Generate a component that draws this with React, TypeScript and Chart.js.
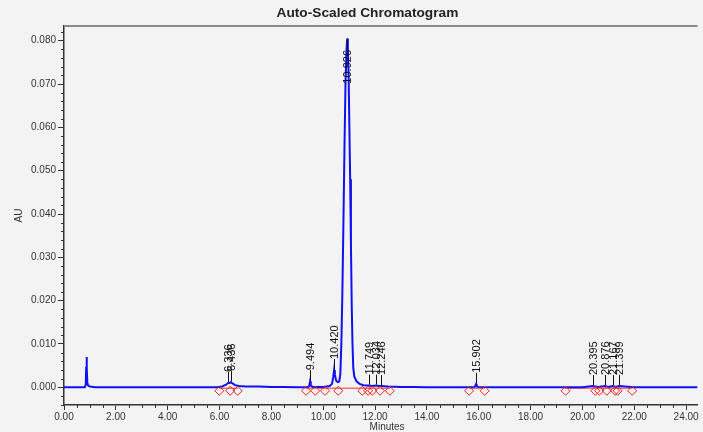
import React, { useEffect, useRef } from "react";
import { Chart, registerables } from "chart.js";
Chart.register(...registerables);

// ---- Data ----
const traceTime = [
  0.0, 0.5, 0.8, 0.84, 0.855, 0.87, 0.885, 0.9, 0.93, 1.0, 1.2, 3.0, 5.0, 5.9,
  6.1, 6.25, 6.336, 6.39, 6.436, 6.5, 6.6, 6.75, 7.0, 7.5, 8.0, 8.5, 9.0, 9.4,
  9.46, 9.494, 9.52, 9.6, 10.0, 10.25, 10.34, 10.39, 10.42, 10.45, 10.5, 10.56,
  10.62, 10.66, 10.7, 10.74, 10.78, 10.82, 10.86, 10.9, 10.926, 10.95, 10.98,
  11.01, 11.04, 11.07, 11.1, 11.13, 11.16, 11.2, 11.28, 11.4, 11.55, 11.749,
  11.9, 12.034, 12.15, 12.246, 12.5, 13.0, 13.5, 14.0, 15.5, 15.85, 15.902,
  15.95, 16.5, 20.0, 20.395, 20.6, 20.876, 21.0, 21.167, 21.3, 21.399, 22.0, 24.44,
];
const traceAU = [
  0.0, 0.0, 0.0, 0.0006, 0.0045, 0.007, 0.0045, 0.001, 0.0004, 0.0002, 0.0, 0.0, 0.0, 0.0,
  0.0002, 0.0006, 0.001, 0.001, 0.0012, 0.0009, 0.0005, 0.0003, 0.0002, 0.0002, 0.0001, 0.0001, 0.0, 0.0,
  0.0003, 0.0014, 0.0004, 0.0001, 0.0001, 0.0003, 0.0008, 0.0025, 0.004, 0.003, 0.0015, 0.0012,
  0.0014, 0.003, 0.01, 0.022, 0.038, 0.055, 0.07, 0.078, 0.0805, 0.0785, 0.072,
  0.06, 0.048, 0.033, 0.019, 0.01, 0.0045, 0.0025, 0.0014, 0.0008, 0.0005, 0.0004,
  0.0003, 0.0004, 0.0003, 0.0003, 0.0002, 0.0001, 0.0001, 0.0, 0.0, 0.0001, 0.0008,
  0.0001, 0.0, 0.0, 0.0003, 0.0001, 0.0003, 0.0001, 0.0003, 0.0001, 0.0003, 0.0, 0.0,
];

const peakLabels = [
  "6.336", "6.436", "9.494", "10.420", "10.926", "11.749", "12.034", "12.246",
  "15.902", "20.395", "20.876", "21.167", "21.399",
];
const peakTimes = [6.336, 6.436, 9.494, 10.42, 10.926, 11.749, 12.034, 12.246, 15.902, 20.395, 20.876, 21.167, 21.399];
const peakApexAU = [0.001, 0.0012, 0.0014, 0.004, 0.0805, 0.0004, 0.0004, 0.0003, 0.0008, 0.0003, 0.0003, 0.0003, 0.0003];

const markerTimes = [
  5.99, 6.41, 6.7, 9.34, 9.69, 10.07, 10.58, 11.51, 11.73, 11.89, 12.19, 12.57,
  15.63, 16.23, 19.35, 20.5, 20.65, 20.94, 21.26, 21.36, 21.92,
];
const markerAU = [
  -0.0008, -0.0008, -0.0008, -0.0008, -0.0008, -0.0008, -0.0008, -0.0008, -0.0008, -0.0008, -0.0008, -0.0008,
  -0.0008, -0.0008, -0.0008, -0.0008, -0.0008, -0.0008, -0.0008, -0.0008, -0.0008,
];

const baselineTime = [5.99, 6.7, 6.8, 9.34, 12.57, 12.7, 15.63, 16.23, 16.3, 19.35, 21.92];
const baselineAU = [-0.0002, -0.0002, null, -0.0002, -0.0002, null, -0.0002, -0.0002, null, -0.0002, -0.0002];

const xTickValues = [0, 2, 4, 6, 8, 10, 12, 14, 16, 18, 20, 22, 24];
const yTickValues = [0, 0.01, 0.02, 0.03, 0.04, 0.05, 0.06, 0.07, 0.08];
const xMinorStep = 0.5;
const yMinorStep = 0.002;
const X_MIN = 0;
const X_MAX = 24.44;
const Y_MIN = -0.00408;
const Y_MAX = 0.0834;

const TITLE = "Auto-Scaled Chromatogram";
const X_TITLE = "Minutes";
const Y_TITLE = "AU";

const FONT = '"Liberation Sans", Arial, Helvetica, sans-serif';

const chromPlugin = {
  id: "chromDecor",
  beforeDraw(chart: any) {
    const { ctx, width, height } = chart;
    ctx.save();
    ctx.fillStyle = "#f2f3f2";
    ctx.fillRect(0, 0, width, height);
    ctx.restore();
  },
  afterDraw(chart: any) {
    const { ctx, chartArea: ca } = chart;
    const x = chart.scales.x;
    const y = chart.scales.y;
    ctx.save();
    // top frame line
    ctx.strokeStyle = "#8a8a8a";
    ctx.lineWidth = 2;
    ctx.beginPath();
    ctx.moveTo(ca.left, ca.top);
    ctx.lineTo(ca.right, ca.top);
    ctx.stroke();

    // minor ticks
    ctx.strokeStyle = "#333";
    ctx.lineWidth = 1;
    ctx.beginPath();
    for (let k = 0; k * xMinorStep <= x.max; k++) {
      const v = k * xMinorStep;
      if (Math.abs(v / 2 - Math.round(v / 2)) < 1e-6) continue;
      const px = Math.round(x.getPixelForValue(v)) + 0.5;
      ctx.moveTo(px, ca.bottom);
      ctx.lineTo(px, ca.bottom + 3);
    }
    for (let k = Math.ceil(y.min / yMinorStep); k * yMinorStep <= y.max; k++) {
      const v = k * yMinorStep;
      if (Math.abs(v / 0.01 - Math.round(v / 0.01)) < 1e-6) continue;
      const py = Math.round(y.getPixelForValue(v)) + 0.5;
      ctx.moveTo(ca.left, py);
      ctx.lineTo(ca.left - 3, py);
    }
    ctx.stroke();

    // peak labels
    ctx.font = `11px ${FONT}`;
    ctx.fillStyle = "#111";
    ctx.strokeStyle = "#111";
    ctx.lineWidth = 1;
    peakLabels.forEach((lab, i) => {
      const px = x.getPixelForValue(peakTimes[i]);
      const apex = y.getPixelForValue(peakApexAU[i]);
      const w = ctx.measureText(lab).width;
      let textBottom = apex - 11;
      let lineFrom = apex - 1;
      let lineTo = textBottom;
      if (textBottom - w < ca.top + 4) {
        const textTop = ca.top + 24;
        textBottom = textTop + w;
        lineFrom = apex;
        lineTo = textTop;
      }
      ctx.beginPath();
      ctx.moveTo(Math.round(px) + 0.5, lineFrom);
      ctx.lineTo(Math.round(px) + 0.5, lineTo);
      ctx.stroke();
      ctx.save();
      ctx.translate(px + 1, textBottom);
      ctx.rotate(-Math.PI / 2);
      ctx.textAlign = "left";
      ctx.textBaseline = "middle";
      ctx.fillText(lab, 0, 0);
      ctx.restore();
    });

    // title
    ctx.fillStyle = "#222";
    ctx.font = `bold 13.7px ${FONT}`;
    ctx.textAlign = "center";
    ctx.textBaseline = "middle";
    ctx.fillText(TITLE, ca.left + (ca.right - ca.left) * 0.479, ca.top - 13);

    // axis titles
    ctx.font = `10px ${FONT}`;
    ctx.fillStyle = "#333";
    ctx.fillText(X_TITLE, ca.left + (ca.right - ca.left) * 0.51, ca.bottom + 22);
    ctx.save();
    ctx.translate(19, (ca.top + ca.bottom) / 2);
    ctx.rotate(-Math.PI / 2);
    ctx.fillText(Y_TITLE, 0, 0);
    ctx.restore();

    ctx.restore();
  },
};

export default function App() {
  const ref = useRef<HTMLCanvasElement | null>(null);
  useEffect(() => {
    if (!ref.current) return;
    const tracePts = traceTime.map((t, i) => ({ x: t, y: traceAU[i] }));
    const markerPts = markerTimes.map((t, i) => ({ x: t, y: markerAU[i] }));
    const basePts = baselineTime.map((t, i) => ({ x: t, y: baselineAU[i] }));
    const chart = new Chart(ref.current, {
      type: "line",
      data: {
        datasets: [
          {
            label: "markers",
            data: markerPts,
            showLine: false,
            pointStyle: "rectRot",
            pointRadius: 4.5,
            pointBorderColor: "#f02020",
            pointBackgroundColor: "rgba(0,0,0,0)",
            pointBorderWidth: 1,
            order: 0,
          },
          {
            label: "trace",
            data: tracePts,
            borderColor: "#1010f0",
            borderWidth: 2,
            pointRadius: 0,
            tension: 0,
            order: 1,
          },
          {
            label: "baseline",
            data: basePts,
            borderColor: "#f03030",
            borderWidth: 1,
            pointRadius: 0,
            spanGaps: false,
            order: 2,
          },
        ],
      } as any,
      options: {
        animation: false,
        responsive: false,
        devicePixelRatio: 1,
        layout: { padding: { top: 26, left: 0, right: 0, bottom: 0 } },
        plugins: { legend: { display: false }, tooltip: { enabled: false }, title: { display: false } },
        scales: {
          x: {
            type: "linear",
            min: X_MIN,
            max: X_MAX,
            afterFit: (s: any) => {
              s.height = 27;
            },
            afterBuildTicks: (s: any) => {
              s.ticks = xTickValues.map((v) => ({ value: v }));
            },
            ticks: {
              font: { family: FONT, size: 10 },
              color: "#333",
              padding: 1,
              maxRotation: 0,
              autoSkip: false,
              callback: (v: any) => Number(v).toFixed(2),
            },
            grid: { drawOnChartArea: false, drawTicks: true, tickLength: 5, color: "#333" },
            border: { display: true, color: "#333", width: 1.5 },
          },
          y: {
            type: "linear",
            min: Y_MIN,
            max: Y_MAX,
            afterFit: (s: any) => {
              s.width = 64;
            },
            afterBuildTicks: (s: any) => {
              s.ticks = yTickValues.map((v) => ({ value: v }));
            },
            ticks: {
              font: { family: FONT, size: 10 },
              color: "#333",
              padding: 2,
              autoSkip: false,
              callback: (v: any) => Number(v).toFixed(3),
            },
            grid: { drawOnChartArea: false, drawTicks: true, tickLength: 6, color: "#333" },
            border: { display: true, color: "#333", width: 1.5 },
          },
        },
      } as any,
      plugins: [chromPlugin],
    });
    return () => chart.destroy();
  }, []);
  return (
    <div style={{ position: "fixed", left: 0, top: 0, width: 703, height: 432, background: "#f2f3f2" }}>
      <canvas ref={ref} width={703} height={432} style={{ width: 703, height: 432, display: "block" }} />
    </div>
  );
}
